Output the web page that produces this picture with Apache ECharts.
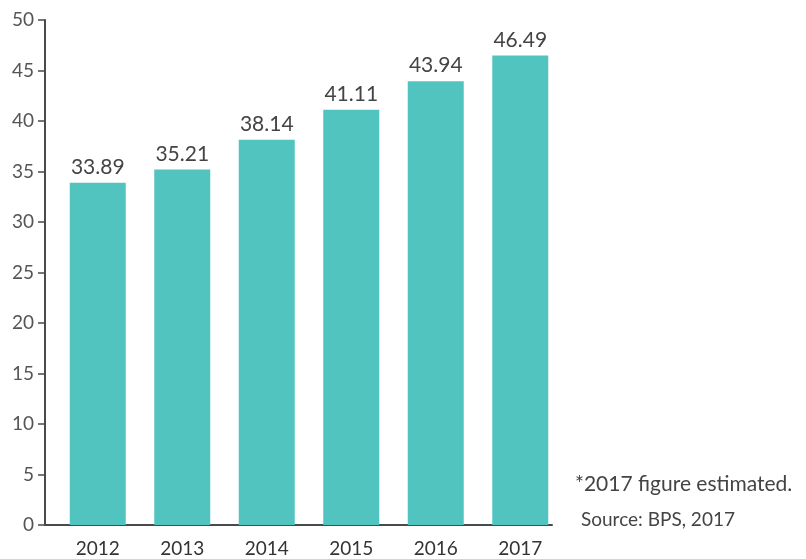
<!DOCTYPE html>
<html>
<head>
<meta charset="utf-8">
<script src="https://cdn.jsdelivr.net/npm/echarts@6/dist/echarts.min.js"></script>
<style>html,body{margin:0;padding:0;background:#fff}#c{width:806px;height:559px}</style>
</head>
<body>
<div id="c"></div>
<script>
var categories = ['2012', '2013', '2014', '2015', '2016', '2017'];
var values = [33.89, 35.21, 38.14, 41.11, 43.94, 46.49];
var yTicks = [0, 5, 10, 15, 20, 25, 30, 35, 40, 45, 50];
var noteLines = ['*2017 figure estimated.', 'Source: BPS, 2017'];

var FONT = 'Lato, "Noto Sans", sans-serif';
var chart = echarts.init(document.getElementById('c'));
chart.setOption({
  animation: false,
  title: [
    { text: noteLines[0], left: 570, top: 469, textStyle: { fontFamily: FONT, fontSize: 21, fontWeight: 'normal', color: '#444' } },
    { text: noteLines[1], left: 576, top: 505, textStyle: { fontFamily: FONT, fontSize: 19, fontWeight: 'normal', color: '#444' } }
  ],
  grid: { left: 45, right: 254, top: 20, bottom: 34 },
  xAxis: {
    type: 'category',
    data: categories,
    axisLine: { lineStyle: { color: '#4a4a4a', width: 2 } },
    axisTick: { show: false },
    axisLabel: { color: '#333', fontSize: 19, fontFamily: FONT, margin: 14, padding: [0, 0, 0, 21] }
  },
  yAxis: {
    type: 'value',
    min: yTicks[0],
    max: yTicks[yTicks.length - 1],
    interval: 5,
    splitLine: { show: false },
    axisLine: { show: true, lineStyle: { color: '#4a4a4a', width: 2 } },
    axisTick: { show: true, length: 7, lineStyle: { color: '#4a4a4a', width: 1.5 } },
    axisLabel: { color: '#555', fontSize: 19, fontFamily: FONT, margin: 11 }
  },
  series: [
    { type: 'bar', data: [], barWidth: 21, barGap: '0%', silent: true, itemStyle: { color: 'rgba(0,0,0,0)' } },
    {
      type: 'bar',
      data: values,
      barWidth: 56,
      itemStyle: { color: '#52C4C0' },
      label: { show: true, position: 'top', distance: 5, color: '#444', fontSize: 21, fontFamily: FONT, formatter: function (p) { return p.value.toFixed(2); } }
    }
  ]
});
</script>
</body>
</html>
